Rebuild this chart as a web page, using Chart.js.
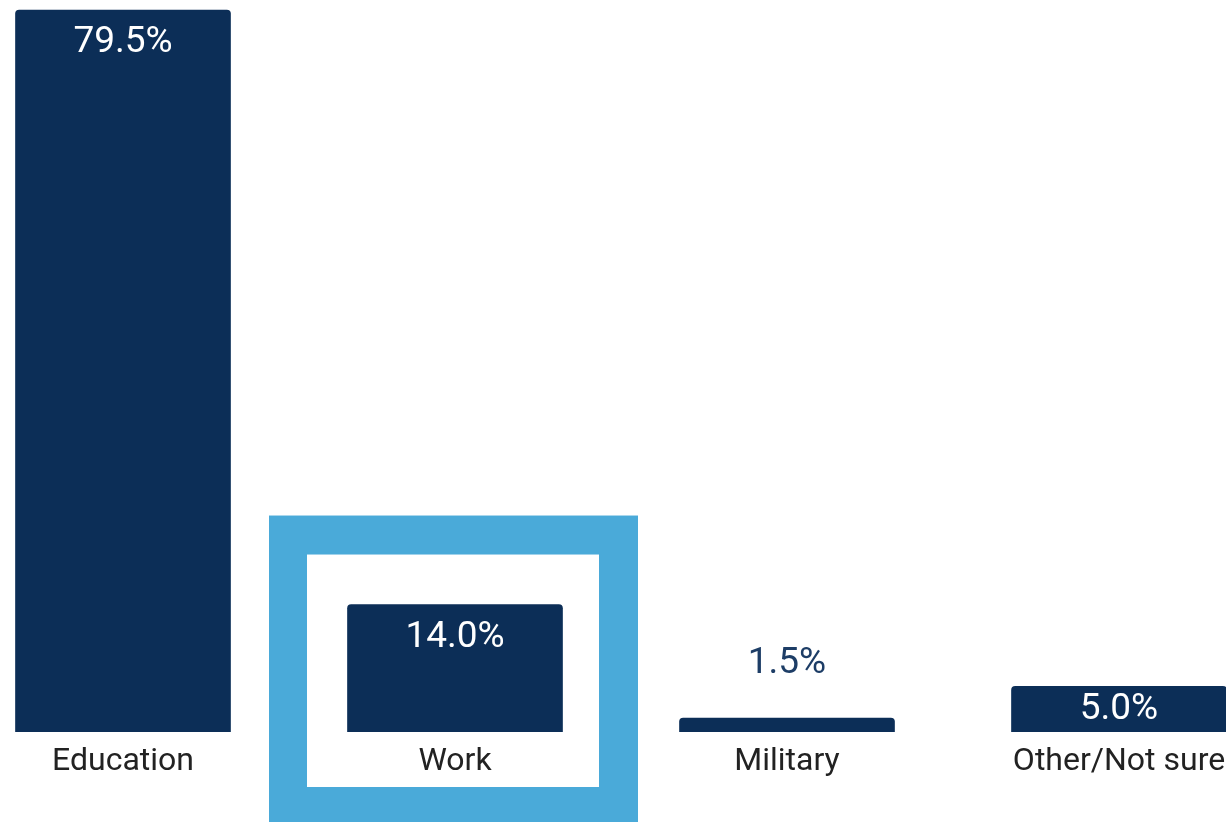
<!DOCTYPE html>
<html>
<head>
<meta charset="utf-8">
<script src="https://cdn.jsdelivr.net/npm/chart.js@4"></script>
<style>
    body { margin: 0; background: #fff; }
    #wrap { width: 1226px; height: 822px; position: relative; }
</style>
</head>
<body>
<div id="wrap"><canvas id="pathChart"></canvas></div>
<script>
// Data
const categories = ["Education", "Work", "Military", "Other/Not sure"]
const shares = [79.5, 14.0, 1.5, 5.0]
const highlighted = "Work"

const navy = "#0c2e57"
const lightBlue = "#4aaad9"

// Frame around the highlighted category, drawn before anything else
const highlightBox = {
    id: "highlightBox",
    beforeDraw(chart) {
        const idx = categories.indexOf(highlighted)
        const bar = chart.getDatasetMeta(0).data[idx]
        if (!bar) return
        const ctx = chart.ctx
        const left = bar.x - 186
        const top = bar.y - 89
        const w = 369
        const h = 822 - top
        ctx.save()
        ctx.fillStyle = lightBlue
        ctx.fillRect(left, top, w, h)
        ctx.fillStyle = "#fff"
        ctx.fillRect(left + 38, top + 39, w - 77, h - 74)
        ctx.restore()
    },
}

// Value labels: inside the bar when there is room, above it otherwise
const valueLabels = {
    id: "valueLabels",
    afterDatasetsDraw(chart) {
        const ctx = chart.ctx
        ctx.save()
        ctx.font = "37px Roboto"
        ctx.textAlign = "center"
        ctx.textBaseline = "middle"
        chart.getDatasetMeta(0).data.forEach((bar, i) => {
            const text = shares[i].toFixed(1) + "%"
            const height = bar.base - bar.y
            if (height > 30) {
                ctx.fillStyle = "#fff"
                ctx.fillText(text, bar.x, Math.min(bar.y + 33, (bar.y + bar.base) / 2 + 1))
            } else {
                ctx.fillStyle = "#1d3d66"
                ctx.fillText(text, bar.x, bar.y - 54)
            }
        })
        ctx.restore()
    },
}

new Chart(document.getElementById("pathChart"), {
    type: "bar",
    data: {
        labels: categories,
        datasets: [
            {
                data: shares,
                backgroundColor: navy,
                barThickness: 215,
                borderRadius: { topLeft: 4, topRight: 4 },
                borderSkipped: "bottom",
            },
        ],
    },
    options: {
        responsive: true,
        maintainAspectRatio: false,
        animation: false,
        clip: false,
        layout: {
            padding: { left: 123, right: 107, top: 10, bottom: 30 },
        },
        plugins: {
            legend: { display: false },
            tooltip: { enabled: false },
        },
        scales: {
            x: {
                offset: false,
                grid: { display: false, drawTicks: false },
                border: { display: false },
                // don't let the edge labels push the chart area inward
                afterFit: (axis) => {
                    axis.paddingLeft = 0
                    axis.paddingRight = 0
                },
                ticks: {
                    color: "#222",
                    padding: 11,
                    maxRotation: 0,
                    autoSkip: false,
                    font: { family: "Roboto", size: 32 },
                },
            },
            y: {
                display: false,
                min: 0,
                max: 79.5,
            },
        },
    },
    plugins: [highlightBox, valueLabels],
})
</script>
</body>
</html>
